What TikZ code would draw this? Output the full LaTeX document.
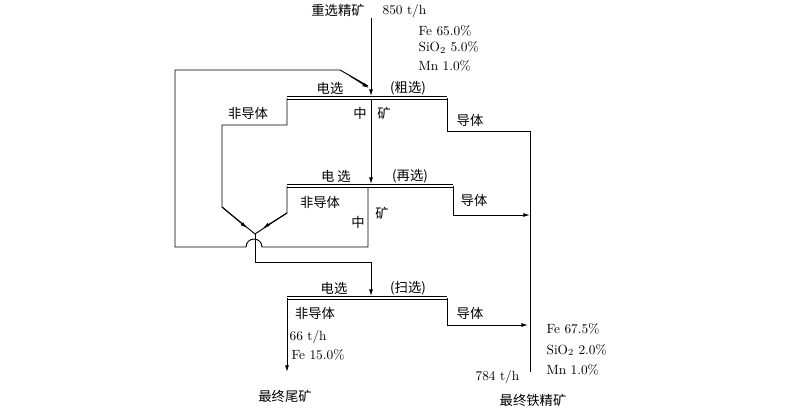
\documentclass[tikz,border=0pt]{standalone}
\usepackage{fontspec}
\newfontfamily\cjk{Noto Sans CJK SC}
\usetikzlibrary{arrows.meta}

\begin{document}
\begin{tikzpicture}[
  x=0.75pt, y=-0.75pt,
  lbl/.style={inner sep=1pt, font=\cjk\fontsize{10}{11}\selectfont},
  num/.style={inner sep=1pt, anchor=west, font=\fontsize{10}{11}\selectfont},
  flow/.style={line width=0.7pt},
  arrow/.style={flow, -{Latex[length=5pt,width=3pt]}},
  bar/.style={line width=0.7pt, double distance=1.6pt}
]
\useasboundingbox (0,0) rectangle (800,413);

% separators
\coordinate (s1l) at (287,98);  \coordinate (s1r) at (447,98);
\coordinate (s2l) at (287,186); \coordinate (s2r) at (453,186);
\coordinate (s3l) at (287,298); \coordinate (s3r) at (447,298);
\draw[bar] (s1l) -- (s1r);
\draw[bar] (s2l) -- (s2r);
\draw[bar] (s3l) -- (s3r);

% feed
\node[lbl] (feed) at (338,10) {重选精矿};
\node[num] (feedq) at (381,11) {850 t/h};
\node[num] (f1) at (417,31) {Fe 65.0\%};
\node[num] (f2) at (417,48) {SiO$_2$ 5.0\%};
\node[num] (f3) at (417,66) {Mn 1.0\%};
\coordinate (top) at (371,18);
\draw[arrow] (top) -- (371,96);

\node[lbl] (e1) at (330,88) {电选};
\node[lbl] (r1) at (408,88) {(粗选)};
\node[lbl] (e2) at (336,176) {电 选};
\node[lbl] (r2) at (410,176) {(再选)};
\node[lbl] (e3) at (334,288) {电选};
\node[lbl] (r3) at (408,288) {(扫选)};

% rougher products
\node[lbl] (n1) at (248,113) {非导体};
\node[lbl] (m1) at (360,113) {中};
\node[lbl] (m1b) at (384,113) {矿};
\node[lbl] (c1) at (470,120) {导体};
\coordinate (j) at (255,234);
\draw[flow] (s1l) -- (287,125) -- (222,125) -- (222,207) -- (j);
\draw[arrow] (371,100) -- (371,184);
\draw[flow] (s1r) -- (447,131) -- (530,131) -- (530,372);

% cleaner products
\node[lbl] (n2) at (320,202) {非导体};
\node[lbl] (m2) at (358,222) {中};
\node[lbl] (m2b) at (382,213) {矿};
\node[lbl] (c2) at (474,200) {导体};
\draw[flow] (s2l) -- (287,213) -- (j);
\draw[arrow] (453,186) -- (453,215) -- (530,215);
\draw[arrow] (222,207) -- (247,228);
\draw[arrow] (287,213) -- (263,228);

% middlings recycle
\draw[flow] (368,188) -- (368,247) -- (262,247)
  arc[start angle=0, end angle=180, radius=6pt] -- (175,247)
  -- (175,70) -- (340,70) -- (368,86);
\draw[arrow] (350,76) -- (369,88);

% scavenger
\draw[arrow] (j) -- (255,262) -- (371,262) -- (371,296);
\node[lbl] (n3) at (315,313) {非导体};
\node[lbl] (c3) at (470,313) {导体};
\draw[arrow] (s3l) -- (287,372);
\draw[arrow] (s3r) -- (447,325) -- (528,325);
\node[num] (t1) at (288,337) {66 t/h};
\node[num] (t2) at (290,355) {Fe 15.0\%};
\node[lbl] (tail) at (285,396) {最终尾矿};

% concentrate
\node[num] (k1) at (545,329) {Fe 67.5\%};
\node[num] (k2) at (545,350) {SiO$_2$ 2.0\%};
\node[num] (k3) at (545,370) {Mn 1.0\%};
\node[num] (kq) at (474,377) {784 t/h};
\node[lbl] (conc) at (533,400) {最终铁精矿};
\end{tikzpicture}
\end{document}
